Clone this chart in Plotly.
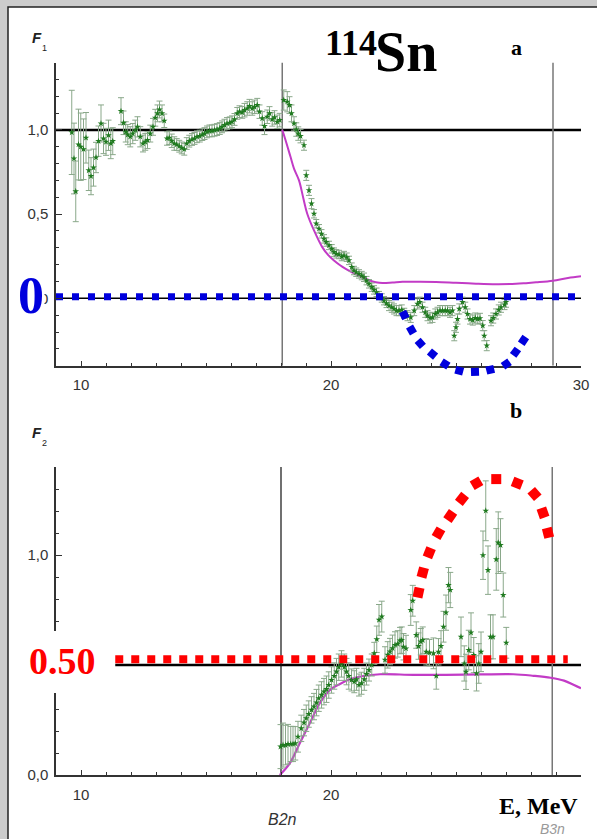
import math
import plotly.graph_objects as go

W, H = 597, 839

# ---------------- Panel a : F1 ----------------
E_a = [9.63, 9.72, 9.79, 9.90, 9.99, 10.10, 10.20, 10.31, 10.40, 10.50, 10.60, 10.70, 10.80, 10.90, 11.00,
       11.10, 11.19, 11.27, 11.60, 11.70, 11.79, 11.87, 11.97, 12.07, 12.17, 12.26, 12.37, 12.48, 12.57,
       12.66, 12.77, 12.88, 12.97, 13.06, 13.14, 13.24, 13.33, 13.44, 13.53, 13.63, 13.73, 13.83, 13.93,
       14.03, 14.13, 14.23, 14.33, 14.44, 14.54, 14.64, 14.75, 14.85, 14.94, 15.04, 15.14, 15.24, 15.34,
       15.44, 15.55, 15.64, 15.74, 15.84, 15.95, 16.04, 16.14, 16.25, 16.34, 16.45, 16.54, 16.65, 16.74,
       16.85, 16.94, 17.05, 17.14, 17.25, 17.34, 17.45, 17.54, 17.65, 17.74, 17.85, 17.95,
       18.11, 18.25, 18.34, 18.42, 18.52, 18.61, 18.69, 18.78, 18.92, 19.01, 19.12, 19.22, 19.32, 19.41,
       19.52, 19.62, 19.72, 19.81, 19.92, 20.03, 20.12, 20.21, 20.32, 20.43, 20.52, 20.63, 20.72, 20.83,
       20.92, 21.01, 21.12, 21.23, 21.32, 21.42, 21.52, 21.63, 21.72, 21.82, 21.92, 22.03, 22.12, 22.22,
       22.32, 22.43, 22.52, 22.62, 22.72, 22.83, 22.93, 23.06, 23.19, 23.33, 23.46, 23.55, 23.66, 23.77,
       23.86, 23.96, 24.06, 24.17, 24.26, 24.36, 24.46, 24.57, 24.66, 24.76, 24.86, 24.93, 25.00, 25.06,
       25.13, 25.26, 25.37, 25.46, 25.56, 25.67, 25.77, 25.87, 25.96, 26.07, 26.13, 26.23, 26.40, 26.49,
       26.60, 26.71, 26.80, 26.94, 27.00]
F_a = [0.985, 0.83, 0.635, 0.913, 0.90, 0.885, 0.953, 0.76, 0.725, 0.776, 0.836, 0.933, 1.038, 0.949, 0.929,
       0.968, 0.919, 0.933, 1.111, 1.042, 0.988, 0.972, 0.959, 0.978, 0.998, 1.018, 0.959, 0.919, 0.929,
       0.939, 0.978, 1.018, 1.072, 1.098, 1.121, 1.098, 1.054, 0.949, 0.953, 0.935, 0.919, 0.913, 0.903,
       0.893, 0.885, 0.919, 0.933, 0.943, 0.949, 0.959, 0.963, 0.972, 0.978, 0.988, 0.994, 0.994, 0.998,
       1.002, 1.008, 1.018, 1.028, 1.038, 1.042, 1.048, 1.062, 1.098, 1.108, 1.104, 1.117, 1.127, 1.141,
       1.127, 1.137, 1.147, 1.108, 1.068, 1.022, 1.078, 1.098, 1.062, 1.074, 1.048, 1.058,
       1.177, 1.167, 1.147, 1.098, 1.038, 1.002, 0.978, 0.963, 0.909, 0.730, 0.641, 0.562, 0.502, 0.443,
       0.413, 0.383, 0.353, 0.334, 0.314, 0.294, 0.274, 0.264, 0.260, 0.248, 0.254, 0.244, 0.225, 0.185,
       0.165, 0.155, 0.145, 0.135, 0.125, 0.105, 0.086, 0.066, 0.050, 0.036, 0.016, 0.002, -0.014, -0.030,
       -0.043, -0.053, -0.063, -0.073, -0.073, -0.069, -0.089, -0.103, -0.113, -0.073, -0.033, -0.023, -0.053, -0.083,
       -0.103, -0.117, -0.113, -0.093, -0.083, -0.073, -0.073, -0.073, -0.073, -0.083, -0.073, -0.222, -0.172, -0.123,
       -0.063, -0.023, -0.053, -0.093, -0.123, -0.129, -0.117, -0.123, -0.119, -0.162, -0.222, -0.281, -0.133, -0.117,
       -0.093, -0.069, -0.053, -0.037, -0.023]
dF_a = [0.25, 0.21, 0.18, 0.21, 0.20, 0.18, 0.15, 0.12, 0.11, 0.11, 0.09, 0.09, 0.11, 0.09, 0.08,
        0.09, 0.09, 0.08, 0.08, 0.07, 0.06, 0.06, 0.06, 0.06, 0.06, 0.06, 0.06, 0.05, 0.05,
        0.05, 0.05, 0.05, 0.05, 0.05, 0.05, 0.05, 0.04, 0.04, 0.04, 0.04, 0.04, 0.035, 0.035,
        0.035, 0.035, 0.035, 0.035, 0.035, 0.035, 0.035, 0.035, 0.035, 0.035, 0.035, 0.035, 0.035, 0.035,
        0.035, 0.035, 0.035, 0.035, 0.035, 0.035, 0.035, 0.035, 0.035, 0.035, 0.035, 0.04, 0.04, 0.04,
        0.04, 0.04, 0.04, 0.04, 0.04, 0.05, 0.04, 0.04, 0.04, 0.04, 0.04, 0.04,
        0.06, 0.06, 0.05, 0.05, 0.04, 0.04, 0.04, 0.04, 0.03, 0.03, 0.03, 0.03, 0.025, 0.025,
        0.025, 0.025, 0.025, 0.025, 0.025, 0.025, 0.025, 0.025, 0.025, 0.025, 0.025, 0.025, 0.025, 0.025,
        0.025, 0.025, 0.025, 0.025, 0.025, 0.025, 0.025, 0.025, 0.025, 0.025, 0.025, 0.025, 0.025, 0.025,
        0.03, 0.03, 0.03, 0.03, 0.03, 0.03, 0.03, 0.03, 0.03, 0.03, 0.03, 0.03, 0.03, 0.03,
        0.03, 0.03, 0.03, 0.03, 0.03, 0.03, 0.03, 0.03, 0.03, 0.03, 0.03, 0.03, 0.03, 0.03,
        0.03, 0.03, 0.03, 0.03, 0.03, 0.03, 0.03, 0.03, 0.03, 0.03, 0.03, 0.03, 0.03, 0.03,
        0.03, 0.03, 0.03, 0.03, 0.03]

E_th_a = [18.05, 18.18, 18.38, 18.52, 18.72, 18.9, 19.05, 19.32, 19.65, 19.9, 20.12, 20.35, 20.59, 20.9,
          21.26, 21.55, 21.79, 22.06, 22.46, 22.86, 23.39, 24.2, 25.0, 25.8, 26.6, 27.4, 27.8, 28.2,
          28.87, 29.48, 30.0]
F_th_a = [1.0, 0.94, 0.84, 0.77, 0.70, 0.59, 0.502, 0.403, 0.304, 0.255, 0.225, 0.198, 0.175, 0.15,
          0.125, 0.106, 0.096, 0.091, 0.094, 0.098, 0.098, 0.097, 0.092, 0.087, 0.084, 0.086, 0.090, 0.095,
          0.105, 0.121, 0.131]

# blue dotted arc (square dashes)
E_arc_a = [22.93, 23.22, 23.57, 24.06, 24.56, 25.13, 25.76, 26.37, 27.01, 27.38, 27.70]
F_arc_a = [-0.099, -0.188, -0.268, -0.331, -0.39, -0.43, -0.436, -0.424, -0.39, -0.32, -0.25]

level_a = 1.0
zero_a = 0.0
blue_level = 0.01
thresholds_a = [18.05, 28.88]

# ---------------- Panel b : F2 ----------------
E_b = [17.98, 18.08, 18.18, 18.28, 18.39, 18.48, 18.57, 18.68, 18.81, 18.92, 19.01, 19.11, 19.22, 19.32,
       19.42, 19.51, 19.62, 19.72, 19.82, 19.91, 20.02, 20.13, 20.22, 20.31, 20.42, 20.53, 20.62, 20.71,
       20.82, 20.93, 21.02, 21.12, 21.22, 21.33, 21.42, 21.52, 21.63, 21.73, 21.83, 21.92, 22.03, 22.16,
       22.27, 22.36, 22.46, 22.56, 22.67, 22.76, 22.83, 22.90, 23.00, 23.19, 23.27, 23.41, 23.50, 23.59,
       23.67, 23.81, 23.94, 24.10, 24.21, 24.30, 24.40, 24.50, 24.60, 24.70, 24.77, 25.20, 25.33, 25.40,
       25.51, 25.60, 25.71, 25.82, 25.91, 26.00, 26.08, 26.19, 26.28, 26.38, 26.48, 26.61, 26.69, 26.78,
       26.89, 27.01]
F_b = [0.129, 0.136, 0.136, 0.140, 0.141, 0.141, 0.144, 0.174, 0.212, 0.238, 0.258, 0.277, 0.296, 0.311,
       0.329, 0.349, 0.364, 0.379, 0.390, 0.409, 0.432, 0.450, 0.470, 0.490, 0.505, 0.490, 0.470, 0.450,
       0.432, 0.424, 0.435, 0.409, 0.417, 0.435, 0.459, 0.477, 0.500, 0.553, 0.617, 0.705, 0.720, 0.523,
       0.546, 0.561, 0.576, 0.591, 0.596, 0.611, 0.613, 0.583, 0.575, 0.750, 0.792, 0.636, 0.586, 0.606,
       0.613, 0.560, 0.556, 0.553, 0.450, 0.560, 0.586, 0.674, 0.738, 0.863, 0.841, 0.628, 0.507, 0.469,
       0.568, 0.647, 0.545, 0.462, 0.507, 0.560, 0.999, 1.201, 0.931, 0.628, 0.628, 0.980, 1.056, 1.045,
       0.818, 0.601]
dF_b = [0.10, 0.10, 0.09, 0.09, 0.08, 0.08, 0.076, 0.07, 0.06, 0.06, 0.06, 0.06, 0.06, 0.06,
        0.06, 0.06, 0.06, 0.06, 0.06, 0.06, 0.06, 0.06, 0.06, 0.06, 0.06, 0.06, 0.06, 0.06,
        0.05, 0.05, 0.05, 0.05, 0.05, 0.05, 0.05, 0.05, 0.05, 0.05, 0.06, 0.07, 0.07, 0.06,
        0.06, 0.06, 0.06, 0.06, 0.06, 0.06, 0.06, 0.06, 0.06, 0.07, 0.07, 0.06, 0.06, 0.06,
        0.06, 0.06, 0.06, 0.07, 0.06, 0.06, 0.07, 0.07, 0.08, 0.08, 0.08, 0.09, 0.08, 0.08,
        0.09, 0.09, 0.08, 0.08, 0.09, 0.09, 0.11, 0.136, 0.11, 0.10, 0.10, 0.14, 0.14, 0.12,
        0.10, 0.07]

E_th_b = [17.95, 18.35, 18.75, 19.15, 19.55, 19.95, 20.36, 20.76, 21.29, 21.96, 23.3, 24.6, 26.0, 27.3,
          28.1, 28.79, 29.32, 29.72, 30.0]
F_th_b = [0.0, 0.053, 0.144, 0.235, 0.326, 0.386, 0.414, 0.435, 0.45, 0.458, 0.455, 0.455, 0.457, 0.458,
          0.451, 0.442, 0.429, 0.409, 0.394]

# red dotted arc (square dashes)
E_arc_b = [23.5, 23.67, 23.93, 24.3, 24.77, 25.24, 25.82, 26.61, 27.45, 28.14, 28.48, 28.68]
F_arc_b = [0.829, 0.92, 1.01, 1.099, 1.177, 1.255, 1.326, 1.345, 1.326, 1.277, 1.192, 1.101]

level_b = 0.5
level_b_x = [11.37, 30.0]
red_level = 0.526
red_level_x = [11.37, 29.47]
thresholds_b = [18.0, 28.85]

# ---------------- helpers for layout (pixel -> paper) ----------------
def px(x):
    return x / W

def py(y):
    return 1 - y / H

XDOM = [px(56), px(581)]
A_TOP, A_BOT = 62.5, 365.7
B_TOP, B_BOT = 467.0, 775.0
sx = (581 - 56) / 21.0
sy_a = (A_BOT - A_TOP) / 1.8
sy_b = (B_BOT - B_TOP) / 1.4
arc_bottom_px = A_TOP + 2.0 * sy_a   # overlay axis reaching down to -0.6 with identical scale


def tangent_angles(xs, ys, kx, ky):
    out = []
    n = len(xs)
    for i in range(n):
        j0, j1 = max(i - 1, 0), min(i + 1, n - 1)
        dx = (xs[j1] - xs[j0]) * kx
        dy = -(ys[j1] - ys[j0]) * ky
        out.append(math.degrees(math.atan2(dy, dx)))
    return out


GREEN = "#1f7a1f"
ERRC = "#8aa88a"
MAG = "#c23bc6"
BLUE = "#0000dd"
RED = "#ff0000"

fig = go.Figure()

# panel a
fig.add_trace(go.Scatter(x=[9, 30], y=[level_a, level_a], mode="lines",
                         line=dict(color="black", width=2.5), xaxis="x", yaxis="y", hoverinfo="skip"))
fig.add_trace(go.Scatter(x=[9, 30], y=[zero_a, zero_a], mode="lines",
                         line=dict(color="black", width=1.5), xaxis="x", yaxis="y", hoverinfo="skip"))
for t in thresholds_a:
    fig.add_trace(go.Scatter(x=[t, t], y=[-0.4, 1.4], mode="lines",
                             line=dict(color="#777", width=1.5), xaxis="x", yaxis="y", hoverinfo="skip"))
fig.add_trace(go.Scatter(x=E_th_a, y=F_th_a, mode="lines", line=dict(color=MAG, width=2, shape="spline"),
                         xaxis="x", yaxis="y"))
fig.add_trace(go.Scatter(x=E_a, y=F_a, mode="markers",
                         marker=dict(symbol="star", size=5, color=GREEN),
                         error_y=dict(type="data", array=dF_a, color=ERRC, thickness=1, width=3),
                         xaxis="x", yaxis="y"))
fig.add_trace(go.Scatter(x=[9, 30], y=[blue_level, blue_level], mode="lines",
                         line=dict(color=BLUE, width=7, dash="7px,9px"), xaxis="x", yaxis="y"))
fig.add_trace(go.Scatter(x=E_arc_a, y=F_arc_a, mode="markers",
                         marker=dict(symbol="square", size=8, color=BLUE, line=dict(width=0),
                                     angle=tangent_angles(E_arc_a, F_arc_a, sx, sy_a)),
                         xaxis="x3", yaxis="y3"))

# panel b
fig.add_trace(go.Scatter(x=level_b_x, y=[level_b, level_b], mode="lines",
                         line=dict(color="black", width=2.5), xaxis="x2", yaxis="y2", hoverinfo="skip"))
fig.add_trace(go.Scatter(x=[thresholds_b[0]] * 2, y=[0, 1.4], mode="lines",
                         line=dict(color="#111", width=1.2), xaxis="x2", yaxis="y2", hoverinfo="skip"))
fig.add_trace(go.Scatter(x=[thresholds_b[1]] * 2, y=[0, 1.4], mode="lines",
                         line=dict(color="#777", width=1.5), xaxis="x2", yaxis="y2", hoverinfo="skip"))
fig.add_trace(go.Scatter(x=E_th_b, y=F_th_b, mode="lines", line=dict(color=MAG, width=2.2, shape="spline"),
                         xaxis="x2", yaxis="y2"))
fig.add_trace(go.Scatter(x=E_b, y=F_b, mode="markers",
                         marker=dict(symbol="star", size=5, color=GREEN),
                         error_y=dict(type="data", array=dF_b, color=ERRC, thickness=1, width=3),
                         xaxis="x2", yaxis="y2"))
fig.add_trace(go.Scatter(x=red_level_x, y=[red_level, red_level], mode="lines",
                         line=dict(color=RED, width=8, dash="8px,8px"), xaxis="x2", yaxis="y2"))
fig.add_trace(go.Scatter(x=E_arc_b, y=F_arc_b, mode="markers", cliponaxis=False,
                         marker=dict(symbol="square", size=10, color=RED, line=dict(width=0),
                                     angle=tangent_angles(E_arc_b, F_arc_b, sx, sy_b)),
                         xaxis="x2", yaxis="y2"))

tickfont = dict(family="Liberation Sans Narrow, Liberation Sans, Arial", size=15, color="#333")
xcommon = dict(range=[9, 30], domain=XDOM, showline=True, linecolor="#333", linewidth=1.5,
               ticks="inside", ticklen=5, tickcolor="#333", tickwidth=1.2, showgrid=False, zeroline=False,
               tickfont=tickfont, ticklabelstandoff=5, tickmode="array", automargin=False,
               minor=dict(tickmode="array", tickvals=list(range(9, 31)), ticks="inside", ticklen=3,
                          tickcolor="#333"))
ycommon = dict(showline=True, linecolor="#333", linewidth=1.5, ticks="inside", ticklen=6,
               tickcolor="#333", tickwidth=1.2, showgrid=False, zeroline=False, tickfont=tickfont,
               tickmode="array", tickvals=[0, 0.5, 1.0], ticklabelstandoff=3, automargin=False)

fig.update_layout(
    template="none",
    width=W, height=H, autosize=False, margin=dict(l=0, r=0, t=0, b=0, pad=0, autoexpand=False),
    paper_bgcolor="#cccccc", plot_bgcolor="rgba(0,0,0,0)", showlegend=False,
    xaxis=dict(**xcommon, anchor="y", tickvals=[10, 20, 30]),
    yaxis=dict(**ycommon, anchor="x", range=[-0.4, 1.4], domain=[py(A_BOT), py(A_TOP)],
               ticktext=["0,0", "0,5", "1,0"],
               minor=dict(tickmode="array", tickvals=[round(-0.4 + 0.1 * i, 1) for i in range(19)],
                          ticks="inside", ticklen=3, tickcolor="#333")),
    xaxis2=dict(**xcommon, anchor="y2", tickvals=[10, 20]),
    yaxis2=dict(**ycommon, anchor="x2", range=[0, 1.4], domain=[py(B_BOT), py(B_TOP)],
                ticktext=["0,0", "", "1,0"],
                minor=dict(tickmode="array", tickvals=[round(0.1 * i, 1) for i in range(15)],
                           ticks="inside", ticklen=3, tickcolor="#333")),
    xaxis3=dict(range=[9, 30], domain=XDOM, visible=False, anchor="y3", automargin=False,
                showgrid=False, zeroline=False),
    yaxis3=dict(range=[-0.6, 1.4], domain=[py(arc_bottom_px), py(A_TOP)], visible=False, anchor="x3",
                automargin=False, showgrid=False, zeroline=False),
)

# frame: white sheet with dark top/left border over gray background
fig.add_shape(type="rect", xref="paper", yref="paper", x0=px(8), x1=1.02, y0=-0.02, y1=py(7),
              fillcolor="white", line=dict(color="#222", width=1.5), layer="below")
# white patch behind the "0.50" label (covers axis segment there)
fig.add_shape(type="rect", xref="paper", yref="paper", x0=px(14), x1=px(114), y0=py(693), y1=py(631),
              fillcolor="white", line=dict(width=0), layer="above")

serif = "Liberation Serif, Times New Roman, serif"
sans = "Liberation Sans, Arial, sans-serif"

def ann(text, x, y, size, color="black", family=serif, bg=None, **kw):
    d = dict(text=text, x=px(x), y=py(y), xref="paper", yref="paper", showarrow=False,
             font=dict(family=family, size=size, color=color), xanchor="center", yanchor="middle")
    if bg:
        d["bgcolor"] = bg
        d["borderpad"] = 0
    d.update(kw)
    fig.add_annotation(**d)

ann("<b><i>F</i></b>", 37, 38, 15, color="#222", family=sans)
ann("1", 44, 48, 9, color="#222", family=sans)
ann("<b><i>F</i></b>", 37, 432, 15, color="#222", family=sans)
ann("2", 45, 443, 9, color="#222", family=sans)
ann("<b>a</b>", 516, 48, 22)
ann("<b>b</b>", 516, 411, 22)
ann("<b>114</b>", 351, 43, 36)
ann("<b>Sn</b>", 406, 52, 56)
ann("<b>0</b>", 31, 295, 52, color=BLUE, bg="white")
ann("<b>0.50</b>", 62, 661, 38, color=RED)
ann("<i>B3n</i>", 552, 829, 14, color="#999", family=sans)
ann("<b>E, MeV</b>", 538, 806, 24, bg="white")
ann("<i>B2n</i>", 282, 819, 16, color="#333", family=sans)

fig.write_html("out.html")
